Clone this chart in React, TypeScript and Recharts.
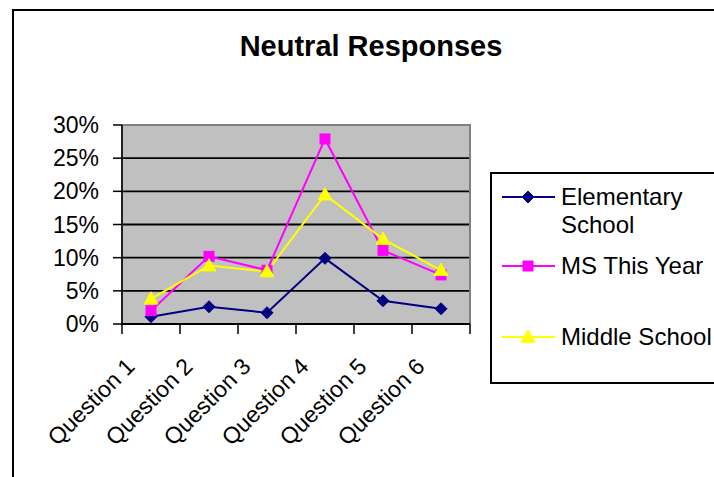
import React from "react";
import {
  CartesianGrid,
  Legend,
  Line,
  LineChart,
  ReferenceArea,
  XAxis,
  YAxis
} from "recharts";

const categories = ["Question 1", "Question 2", "Question 3", "Question 4", "Question 5", "Question 6"];
const elementary = [0.011, 0.026, 0.017, 0.099, 0.035, 0.023];
const msThisYear = [0.02, 0.102, 0.081, 0.279, 0.111, 0.074];
const middleSchool = [0.038, 0.088, 0.079, 0.195, 0.128, 0.081];
const yTicks = [0, 0.05, 0.1, 0.15, 0.2, 0.25, 0.3];
const seriesNames = ["Elementary School", "MS This Year", "Middle School"];

const FONT = '"Liberation Sans", Arial, sans-serif';
const NAVY = "#000080";
const MAGENTA = "#FF00FF";
const YELLOW = "#FFFF00";

// categories sit at the middle of each band, ticks on the band edges
const data = categories.map((name, i) => ({
  pos: i + 0.5,
  name,
  elementary: elementary[i],
  msThisYear: msThisYear[i],
  middleSchool: middleSchool[i]
}));

const xTicks: number[] = [];
for (let i = 0; i <= categories.length * 2; i++) xTicks.push(i / 2);

type Shape = "diamond" | "square" | "triangle";

function Marker({ cx, cy, shape, color }: { cx: number; cy: number; shape: Shape; color: string }) {
  if (shape === "diamond") {
    const r = 6;
    return <polygon points={`${cx},${cy - r} ${cx + r},${cy} ${cx},${cy + r} ${cx - r},${cy}`} fill={color} stroke={color} />;
  }
  if (shape === "square") {
    const r = 5;
    return <rect x={cx - r} y={cy - r} width={r * 2} height={r * 2} fill={color} stroke={color} />;
  }
  const r = 7;
  return <polygon points={`${cx},${cy - r} ${cx + r},${cy + r * 0.75} ${cx - r},${cy + r * 0.75}`} fill={color} stroke={color} />;
}

const series: { key: string; color: string; shape: Shape }[] = [
  { key: "elementary", color: NAVY, shape: "diamond" },
  { key: "msThisYear", color: MAGENTA, shape: "square" },
  { key: "middleSchool", color: YELLOW, shape: "triangle" }
];

function XTick(props: any) {
  const { x, y, payload } = props;
  const v = payload.value as number;
  if (Number.isInteger(v)) {
    return <line x1={x} x2={x} y1={y} y2={y + 10} stroke="#000" strokeWidth={1.5} />;
  }
  const label = categories[Math.floor(v)];
  const tx = x - 15;
  const ty = y + 44;
  return (
    <text
      x={tx}
      y={ty}
      textAnchor="end"
      transform={`rotate(-45, ${tx}, ${ty})`}
      fontSize={23}
      fontFamily={FONT}
      fill="#000"
    >
      {label}
    </text>
  );
}

function LegendBox() {
  const rows = [9, 78, 149];
  return (
    <div
      style={{
        position: "relative",
        width: 260,
        height: 208,
        border: "2px solid #000",
        background: "#fff",
        fontFamily: FONT,
        fontSize: 24,
        color: "#000"
      }}
    >
      {series.map((s, i) => (
        <div key={s.key} style={{ position: "absolute", left: 8, top: rows[i], display: "flex" }}>
          <svg width={56} height={28} style={{ flex: "none" }}>
            <line x1={2} x2={55} y1={14} y2={14} stroke={s.color} strokeWidth={2} />
            <Marker cx={28} cy={14} shape={s.shape} color={s.color} />
          </svg>
          <div style={{ width: 160, lineHeight: "28px", marginLeft: 5 }}>{seriesNames[i]}</div>
        </div>
      ))}
    </div>
  );
}

export default function App() {
  return (
    <div style={{ position: "absolute", left: 0, top: 0, width: 714, height: 477, overflow: "hidden", background: "#fff" }}>
      <div
        style={{
          position: "absolute",
          left: 12,
          top: 9,
          width: 800,
          height: 600,
          border: "2px solid #000",
          boxSizing: "border-box"
        }}
      />
      <div
        style={{
          position: "absolute",
          left: 371,
          top: 28,
          transform: "translateX(-50%)",
          whiteSpace: "nowrap",
          fontFamily: FONT,
          fontWeight: "bold",
          fontSize: 29,
          lineHeight: "36px",
          color: "#000"
        }}
      >
        Neutral Responses
      </div>
      <div style={{ position: "absolute", left: 0, top: 0 }}>
        <LineChart width={714} height={477} data={data} margin={{ top: 125, right: 244, left: 62, bottom: 0 }}>
          <CartesianGrid
            vertical={false}
            horizontalValues={[0.05, 0.1, 0.15, 0.2, 0.25]}
            stroke="#000"
            strokeWidth={1.8}
            fill="#C0C0C0"
            fillOpacity={1}
          />
          <ReferenceArea x1={0} x2={6} y1={0} y2={0.3} fill="none" stroke="#808080" strokeWidth={2} />
          <XAxis
            dataKey="pos"
            type="number"
            domain={[0, 6]}
            ticks={xTicks}
            interval={0}
            height={153}
            tickSize={0}
            tickMargin={0}
            tickLine={false}
            axisLine={{ stroke: "#000", strokeWidth: 2 }}
            tick={<XTick />}
          />
          <YAxis
            type="number"
            domain={[0, 0.3]}
            ticks={yTicks}
            interval={0}
            width={60}
            tickSize={9}
            tickMargin={14}
            tickLine={{ stroke: "#000", strokeWidth: 1.5 }}
            axisLine={{ stroke: "#000", strokeWidth: 1.5 }}
            tick={{ fill: "#000", fontSize: 23, fontFamily: FONT }}
            tickFormatter={(v: number) => `${Math.round(v * 100)}%`}
          />
          {series.map((s, i) => (
            <Line
              key={s.key}
              dataKey={s.key}
              name={seriesNames[i]}
              stroke={s.color}
              strokeWidth={2}
              isAnimationActive={false}
              dot={(p: any) => <Marker key={`${s.key}-${p.index}`} cx={p.cx} cy={p.cy} shape={s.shape} color={s.color} />}
              activeDot={false}
            />
          ))}
          <Legend
            layout="vertical"
            align="center"
            verticalAlign="middle"
            wrapperStyle={{ left: 490, top: 172, width: 262 }}
            content={() => <LegendBox />}
          />
        </LineChart>
      </div>
    </div>
  );
}
